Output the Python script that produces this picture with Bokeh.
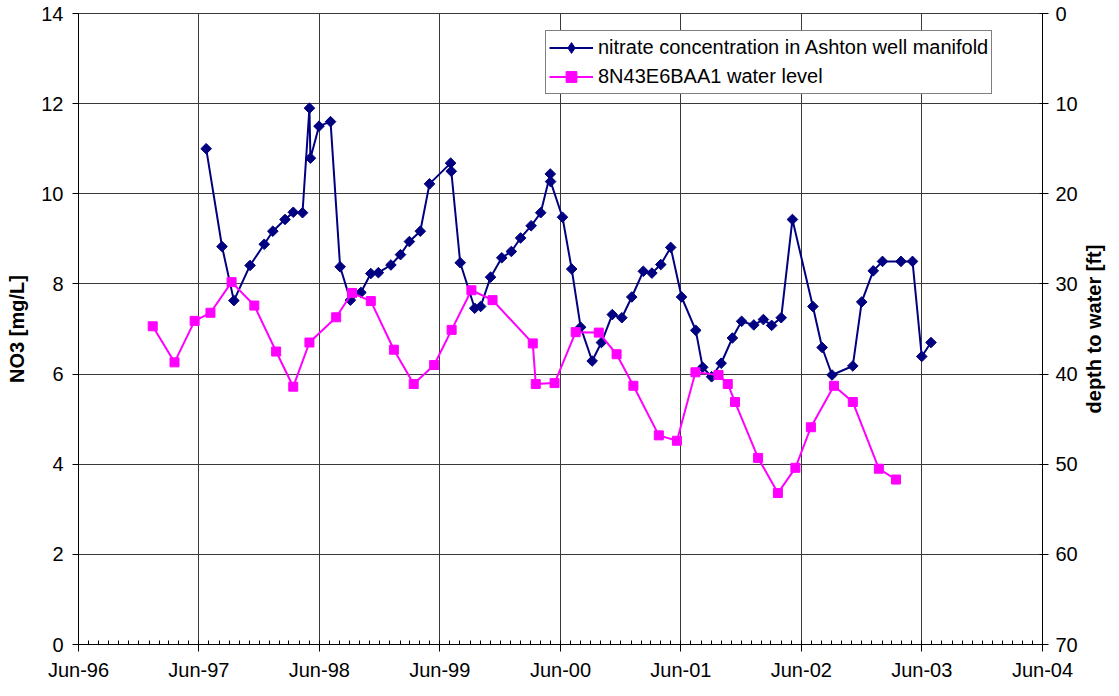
import math
import pandas as pd
from bokeh.plotting import figure
from bokeh.layouts import row
from bokeh.models import (Range1d, LinearAxis, FixedTicker, DatetimeTickFormatter,
                          Legend, LegendItem)
from bokeh.core.properties import value
from bokeh.embed import file_html
from bokeh.resources import INLINE

# ---------------- data ----------------
nitrate_dates = ["1997-06-23", "1997-08-10", "1997-09-15", "1997-11-03", "1997-12-16",
                 "1998-01-11", "1998-02-17", "1998-03-14", "1998-04-11", "1998-05-02",
                 "1998-05-05", "1998-05-31", "1998-07-05", "1998-08-03", "1998-09-03",
                 "1998-10-05", "1998-11-04", "1998-11-27", "1999-01-04", "1999-02-02",
                 "1999-03-01", "1999-04-03", "1999-05-01", "1999-07-04", "1999-07-06",
                 "1999-08-02", "1999-09-15", "1999-10-03", "1999-11-02", "1999-12-06",
                 "2000-01-04", "2000-02-01", "2000-03-04", "2000-04-02", "2000-05-01",
                 "2000-05-02", "2000-06-07", "2000-07-05", "2000-08-01", "2000-09-05",
                 "2000-10-03", "2000-11-05", "2000-12-04", "2001-01-03", "2001-02-07",
                 "2001-03-05", "2001-04-01", "2001-05-01", "2001-06-03", "2001-07-16",
                 "2001-08-06", "2001-09-02", "2001-10-01", "2001-11-04", "2001-12-02",
                 "2002-01-08", "2002-02-06", "2002-03-03", "2002-04-01", "2002-05-05",
                 "2002-07-06", "2002-08-03", "2002-09-02", "2002-11-04", "2002-12-01",
                 "2003-01-05", "2003-02-02", "2003-03-30", "2003-05-04", "2003-06-01",
                 "2003-06-29"]
nitrate_values = [11.0, 8.83, 7.63, 8.41, 8.88, 9.17, 9.43, 9.59, 9.58, 11.90,
                  10.79, 11.50, 11.60, 8.38, 7.64, 7.81, 8.23, 8.25, 8.42, 8.65,
                  8.94, 9.17, 10.22, 10.68, 10.50, 8.47, 7.46, 7.50, 8.15, 8.58,
                  8.72, 9.02, 9.29, 9.58, 10.44, 10.27, 9.48, 8.33, 7.04, 6.29,
                  6.70, 7.32, 7.25, 7.71, 8.28, 8.24, 8.43, 8.81, 7.71, 6.97,
                  6.15, 5.94, 6.24, 6.80, 7.17, 7.09, 7.21, 7.08, 7.25, 9.43,
                  7.50, 6.59, 5.98, 6.18, 7.60, 8.29, 8.50, 8.50, 8.50, 6.39,
                  6.70]

level_dates = ["1997-01-12", "1997-03-19", "1997-05-19", "1997-07-06", "1997-09-08",
               "1997-11-16", "1998-01-21", "1998-03-14", "1998-05-02", "1998-07-22",
               "1998-09-08", "1998-11-04", "1999-01-13", "1999-03-14", "1999-05-15",
               "1999-07-07", "1999-09-05", "1999-11-08", "2000-03-09", "2000-03-18",
               "2000-05-14", "2000-07-17", "2000-09-25", "2000-11-18", "2001-01-08",
               "2001-03-26", "2001-05-20", "2001-07-15", "2001-09-23", "2001-10-21",
               "2001-11-12", "2002-01-21", "2002-03-22", "2002-05-14", "2002-06-30",
               "2002-09-08", "2002-11-04", "2003-01-22", "2003-03-15"]
level_values = [34.7, 38.7, 34.1, 33.2, 29.8, 32.4, 37.5, 41.4, 36.5, 33.7,
                31.0, 31.9, 37.3, 41.1, 39.0, 35.1, 30.7, 31.8, 36.6, 41.1,
                41.0, 35.35, 35.4, 37.8, 41.3, 46.8, 47.4, 39.8, 40.1, 41.1,
                43.1, 49.3, 53.2, 50.4, 45.9, 41.3, 43.1, 50.5, 51.7]

x_start, x_end = "1996-06-01", "2004-06-01"
left_ticks = [0, 2, 4, 6, 8, 10, 12, 14]
right_ticks = [0, 10, 20, 30, 40, 50, 60, 70]

nitrate_label = "nitrate concentration in Ashton well manifold"
level_label = "8N43E6BAA1 water level"
left_title = "NO3 [mg/L]"
right_title = "depth to water [ft]"

# ---------------- helpers ----------------
def ms(s):
    return pd.Timestamp(s).value // 10**6

nx = pd.to_datetime(nitrate_dates)
lx = pd.to_datetime(level_dates)

major = [ms(d) for d in pd.date_range(x_start, x_end, freq="12MS")]
minor = [ms(d) for d in pd.date_range(x_start, x_end, freq="MS")]

FONT = "Liberation Sans"
FS = "20px"
GRID = "#3a3a3a"
FW, FH = 964, 631
TOP = 13

p = figure(x_axis_type="datetime", output_backend="svg", toolbar_location=None,
           frame_width=FW, frame_height=FH,
           x_range=Range1d(ms(x_start), ms(x_end)), y_range=Range1d(0, 14),
           min_border_left=78, min_border_top=TOP, min_border_right=0, min_border_bottom=0)
p.background_fill_color = "white"
p.border_fill_color = "white"
p.outline_line_color = GRID

p.extra_y_ranges = {"depth": Range1d(70, 0)}

# x axis
xa = p.xaxis[0]
xa.ticker = FixedTicker(ticks=major, minor_ticks=minor)
fmt = "%b-%y"
xa.formatter = DatetimeTickFormatter(milliseconds=fmt, seconds=fmt, minsec=fmt, minutes=fmt,
                                     hourmin=fmt, hours=fmt, days=fmt, months=fmt, years=fmt)
xa.major_tick_in = 0
xa.major_tick_out = 7
xa.minor_tick_in = 4
xa.minor_tick_out = 0
xa.major_label_standoff = 7

# left axis
ya = p.yaxis[0]
ya.ticker = FixedTicker(ticks=left_ticks)
ya.major_tick_in = 0
ya.major_tick_out = 6
ya.minor_tick_in = 0
ya.minor_tick_out = 0
ya.major_label_standoff = 9
ya.axis_label = left_title
ya.axis_label_standoff = 10

# right axis
ra = LinearAxis(y_range_name="depth", ticker=FixedTicker(ticks=right_ticks))
ra.major_tick_in = 3
ra.major_tick_out = 6
ra.minor_tick_in = 0
ra.minor_tick_out = 0
ra.major_label_standoff = 7
p.add_layout(ra, "right")

for ax in [xa, ya, ra]:
    ax.axis_line_color = "black"
    ax.axis_line_width = 1
    ax.major_tick_line_color = "black"
    ax.minor_tick_line_color = "black"
    ax.major_label_text_font = FONT
    ax.major_label_text_font_size = FS
    ax.major_label_text_color = "black"
    ax.axis_label_text_font = FONT
    ax.axis_label_text_font_size = FS
    ax.axis_label_text_font_style = "bold"
    ax.axis_label_text_color = "black"

p.xgrid.grid_line_color = GRID
p.ygrid.grid_line_color = GRID
p.xgrid.grid_line_width = 1
p.ygrid.grid_line_width = 1

# series
NAVY = "#000080"
MAG = "#FF00FF"
n_line = p.line(nx, nitrate_values, line_color=NAVY, line_width=2)
n_pts = p.scatter(nx, nitrate_values, marker="square", angle=math.pi / 4, size=7.5,
                  fill_color=NAVY, line_color=NAVY)
# hidden copy with the diamond marker, used only for the legend key
n_key = p.scatter(nx, nitrate_values, marker="diamond", size=11, fill_color=NAVY,
                  line_color=NAVY, visible=False)
l_line = p.line(lx, level_values, line_color=MAG, line_width=2, y_range_name="depth")
l_pts = p.scatter(lx, level_values, marker="square", size=9, fill_color=MAG,
                  line_color=MAG, y_range_name="depth")

legend = Legend(items=[LegendItem(label=nitrate_label, renderers=[n_line, n_key]),
                       LegendItem(label=level_label, renderers=[l_line, l_pts])],
                location=(467, FH - 19 - 62))
legend.click_policy = "none"
legend.label_text_font = FONT
legend.label_text_font_size = FS
legend.label_text_color = "black"
legend.border_line_color = "black"
legend.border_line_width = 1
legend.background_fill_color = "white"
legend.background_fill_alpha = 1
legend.padding = 3
legend.margin = 0
legend.spacing = 2
legend.label_height = 27
legend.glyph_height = 27
legend.glyph_width = 44
legend.label_standoff = 5
p.add_layout(legend, "center")

# narrow strip to the right holding the right-axis title, reading bottom-to-top
t = figure(output_backend="svg", toolbar_location=None, frame_width=26, frame_height=FH,
           x_range=Range1d(0, 1), y_range=Range1d(0, 1),
           x_axis_location=None, y_axis_location=None,
           min_border_left=0, min_border_right=0, min_border_top=TOP, min_border_bottom=37)
t.grid.visible = False
t.outline_line_color = None
t.background_fill_color = "white"
t.border_fill_color = "white"
t.text(x=[0.5], y=[0.5], text=[right_title], angle=math.pi / 2,
       text_align="center", text_baseline="middle",
       text_font=value(FONT), text_font_size=value(FS), text_font_style="bold",
       text_color="black")

layout = row(p, t, spacing=0)
open("out.html", "w").write(file_html(layout, INLINE))
